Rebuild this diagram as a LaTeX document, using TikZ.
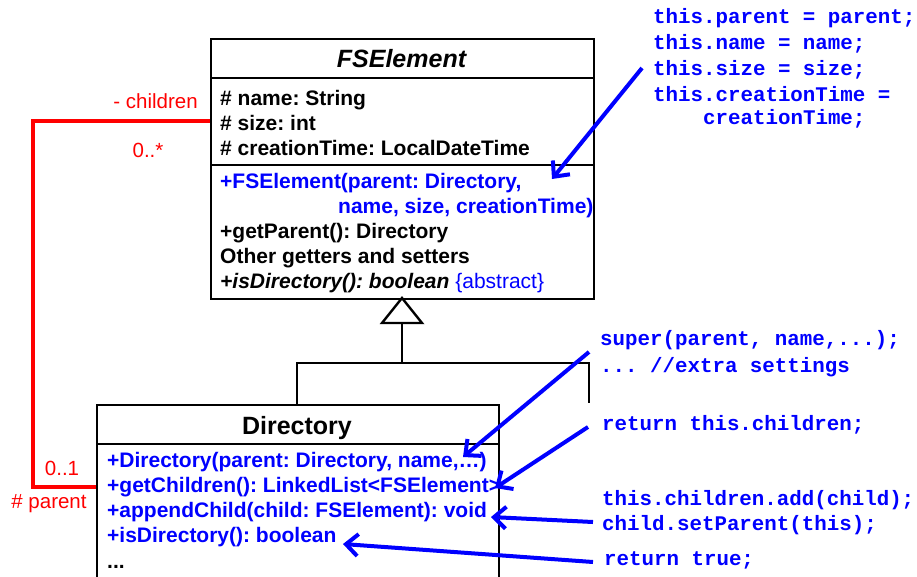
\documentclass[tikz,border=0pt]{standalone}
\usepackage{fontspec}
\setmainfont{Liberation Sans}
\newfontfamily\codefont{Liberation Mono}
\usetikzlibrary{arrows.meta}
\definecolor{umlblue}{RGB}{0,0,255}
\definecolor{umlred}{RGB}{255,0,0}
\frenchspacing

\tikzset{
  classbox/.style={draw, line width=2.4pt, inner sep=0pt, anchor=north west},
  divider/.style={line width=2.4pt},
  gen/.style={line width=2.4pt},
  member/.style={anchor=base west, inner sep=0pt, font=\fontsize{21}{24}\selectfont\bfseries},
  ctor/.style={member, text=umlblue},
  classtitle/.style={anchor=base, inner sep=0pt, font=\fontsize{25}{28}\selectfont\bfseries},
  rolelabel/.style={inner sep=0pt, text=umlred, font=\fontsize{20.5}{24}\selectfont},
  assoc/.style={draw=umlred, line width=4pt},
  codeline/.style={anchor=base west, inner sep=0pt, text=umlblue, font=\fontsize{20.8}{25}\selectfont\codefont\bfseries},
  note/.style={draw=umlblue, line width=4pt, -{Straight Barb[length=12pt, width=22pt]}},
}

\begin{document}
\begin{tikzpicture}[x=1pt, y=-1pt]
\useasboundingbox (0,0) rectangle (917,576);
\clip (0,0) rectangle (917,576);

% ---- abstract class FSElement ----
\node[classbox, minimum width=383pt, minimum height=260pt] (fse) at (210,38) {};
\draw[divider] (fse.west |- 0,78) -- (fse.east |- 0,78);
\draw[divider] (fse.west |- 0,165) -- (fse.east |- 0,165);
\node[classtitle] (fseTitle) at (401.5,67) {\itshape FSElement};
\node[member] (fseA1) at (220,105) {\# name: String};
\node[member] (fseA2) at (220,130) {\# size: int};
\node[member] (fseA3) at (220,155) {\# creationTime: LocalDateTime};
\node[ctor] (fseM1) at (220,188) {+FSElement(parent: Directory,};
\node[ctor] (fseM1b) at (338,213) {name, size, creationTime)};
\node[member] (fseM2) at (220,238) {+getParent(): Directory};
\node[member] (fseM3) at (220,263) {Other getters and setters};
\node[member] (fseM4) at (220,288) {\itshape +isDirectory(): boolean\ \normalfont\mdseries\textcolor{umlblue}{\{abstract\}}};

% ---- class Directory ----
\node[classbox, minimum width=402pt, minimum height=180pt] (dir) at (96,404) {};
\draw[divider] (dir.west |- 0,444) -- (dir.east |- 0,444);
\node[classtitle] (dirTitle) at (297,434) {Directory};
\node[ctor] (dirM1) at (107,467) {+Directory(parent: Directory, name,\dots)};
\node[ctor] (dirM2) at (107,492) {+getChildren(): LinkedList<FSElement>};
\node[ctor] (dirM3) at (107,517) {+appendChild(child: FSElement): void};
\node[ctor] (dirM4) at (107,542) {+isDirectory(): boolean};
\node[member] (dirM5) at (107,568) {...};

% ---- generalization ----
\coordinate (apex) at (402,298);
\coordinate (hub) at (402,363);
\coordinate (sibling) at (589,403);
\draw[gen, fill=white] (apex) -- (422,323) -- (382,323) -- cycle;
\draw[gen] (402,323) -- (hub);
\draw[gen] (dir.north -| 297,0) |- (hub) -| (sibling);

% ---- parent / children association ----
\coordinate (assocTop) at (fse.west |- 0,121);
\coordinate (assocBot) at (dir.west |- 0,487);
\draw[assoc] (assocTop) -- (33,121) |- (assocBot);
\node[rolelabel, anchor=base east] (lblChildren) at (198,108) {- children};
\node[rolelabel, anchor=base] (lblMany) at (148,157) {0..*};
\node[rolelabel, anchor=base] (lblOne) at (62,475) {0..1};
\node[rolelabel, anchor=base] (lblParent) at (49,508) {\# parent};

% ---- method bodies ----
\node[codeline] (c1) at (653,23) {this.parent = parent;};
\node[codeline] (c2) at (653,49) {this.name = name;};
\node[codeline] (c3) at (653,75) {this.size = size;};
\node[codeline] (c4) at (653,101) {this.creationTime =};
\node[codeline] (c5) at (703,124) {creationTime;};
\node[codeline] (s1) at (600,345) {super(parent, name,...);};
\node[codeline] (s2) at (600,372) {... //extra settings};
\node[codeline] (g1) at (602,430) {return this.children;};
\node[codeline] (a1) at (602,505) {this.children.add(child);};
\node[codeline] (a2) at (602,530) {child.setParent(this);};
\node[codeline] (r1) at (604,565) {return true;};

% ---- pointers from bodies to members ----
\coordinate (p1) at (642,68);
\coordinate (q1) at (552,179);
\coordinate (p2) at (589,352);
\coordinate (q2) at (463,457);
\coordinate (p3) at (588,427);
\coordinate (q3) at (495,488);
\coordinate (p4) at (593,522);
\coordinate (q4) at (491,517);
\coordinate (p5) at (593,562);
\coordinate (q5) at (343,544);
\draw[note] (p1) -- (q1);
\draw[note] (p2) -- (q2);
\draw[note] (p3) -- (q3);
\draw[note] (p4) -- (q4);
\draw[note] (p5) -- (q5);
\end{tikzpicture}
\end{document}
